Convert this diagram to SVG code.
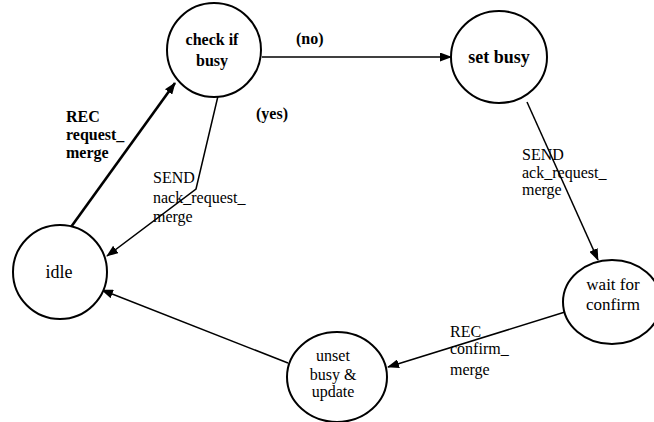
<svg xmlns="http://www.w3.org/2000/svg" width="654" height="422" viewBox="0 0 654 422">
<defs>
<style>
.node{fill:#fff;stroke:#000;stroke-width:2}
.t{font-family:"Liberation Serif","Times New Roman",serif;font-size:16px;fill:#000;text-anchor:middle}
.b{font-weight:bold}
.l{font-family:"Liberation Serif","Times New Roman",serif;font-size:16px;fill:#000}
.e{fill:none;stroke:#000;stroke-width:1.5}
.thick{stroke-width:2.6}
</style>
<marker id="arr" markerUnits="userSpaceOnUse" markerWidth="12" markerHeight="9" refX="11" refY="4.5" orient="auto">
<path d="M0,0 L12,4.5 L0,9 z" fill="#000"/>
</marker>
</defs>
<rect width="654" height="422" fill="#fff"/>
<g id="connectors">
<line class="e thick" x1="71" y1="227" x2="175" y2="83" marker-end="url(#arr)"/>
<line class="e" x1="262" y1="57" x2="451" y2="57" marker-end="url(#arr)"/>
<polyline class="e" points="218,96 196,189 107,256" marker-end="url(#arr)"/>
<line class="e" x1="527" y1="102" x2="598" y2="260" marker-end="url(#arr)"/>
<line class="e" x1="565" y1="312" x2="388" y2="367" marker-end="url(#arr)"/>
<line class="e" x1="288" y1="363" x2="102" y2="290" marker-end="url(#arr)"/>
<text class="l b" x="296" y="44">(no)</text>
<text class="l b" x="256" y="119">(yes)</text>
<text class="l b" x="66" y="122">REC</text>
<text class="l b" x="66" y="140">request_</text>
<text class="l b" x="66" y="158">merge</text>
<text class="l" x="153" y="183">SEND</text>
<text class="l" x="153" y="203">nack_request_</text>
<text class="l" x="153" y="222">merge</text>
<text class="l" x="522" y="160">SEND</text>
<text class="l" x="522" y="178">ack_request_</text>
<text class="l" x="522" y="195">merge</text>
<text class="l" x="450" y="337">REC</text>
<text class="l" x="450" y="354">confirm_</text>
<text class="l" x="450" y="375">merge</text>
</g>
<g id="check-if-busy">
<circle class="node" cx="214" cy="50" r="47"/>
<text class="t b" x="212" y="45" font-size="14">check if</text>
<text class="t b" x="212" y="66" font-size="14">busy</text>
</g>
<g id="set-busy">
<ellipse class="node" cx="499" cy="57" rx="48" ry="46"/>
<text class="t b" x="499" y="63" style="font-size:18px">set busy</text>
</g>
<g id="idle">
<circle class="node" cx="60" cy="272" r="47"/>
<text class="t" x="59" y="278" style="font-size:18px">idle</text>
</g>
<g id="wait-for-confirm">
<ellipse class="node" cx="612" cy="302" rx="49" ry="42"/>
<text class="t" x="613" y="290" style="font-size:17px">wait  for</text>
<text class="t" x="613" y="310" style="font-size:17px">confirm</text>
</g>
<g id="unset-busy-update">
<ellipse class="node" cx="337" cy="377" rx="50" ry="45"/>
<text class="t" x="333" y="361">unset</text>
<text class="t" x="333" y="380">busy &amp;</text>
<text class="t" x="333" y="397">update</text>
</g>
</svg>
